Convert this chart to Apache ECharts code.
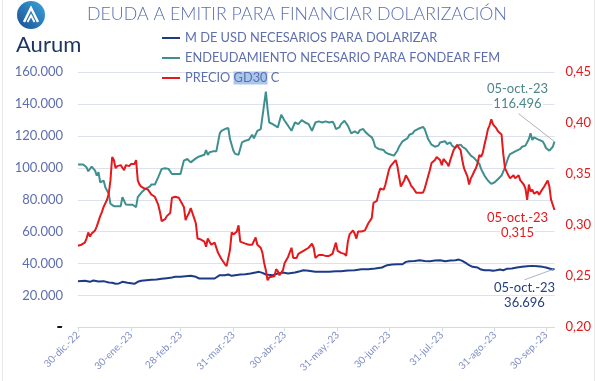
<!DOCTYPE html>
<html>
<head>
<meta charset="utf-8">
<script src="https://cdn.jsdelivr.net/npm/echarts@6/dist/echarts.min.js"></script>
<style>
  html, body { margin: 0; padding: 0; background: #ffffff; }
  #chart { width: 597px; height: 381px; }
</style>
</head>
<body>
<div id="chart"></div>
<script>
// ---- Data (x = days after 30-dic-2022) ----
const startDate = [2022, 11, 30];
const tickDates = ['2022-12-30','2023-01-30','2023-02-28','2023-03-31','2023-04-30','2023-05-31','2023-06-30','2023-07-31','2023-08-31','2023-09-30'];
const monthNames = ['ene','feb','mar','abr','may','jun','jul','ago','sep','oct','nov','dic'];
const seriesNames = ['M DE USD NECESARIOS PARA DOLARIZAR','ENDEUDAMIENTO NECESARIO PARA FONDEAR FEM','PRECIO GD30 C'];
const leftTicks = [0, 160000, 20000];
const rightTicks = [0.20, 0.45, 0.05];

const usdDays = [0,4,7,9,12,15,18,20,22,24,26,27,29,30,33,35,37,40,43,46,49,52,55,57,60,63,66,69,71,72,76,80,83,86,88,90,92,95,98,101,104,106,108,110,111,114,117,120,123,127,130,132,135,139,143,147,151,152,154,158,162,166,170,174,178,181,184,187,188,190,192,194,197,200,203,206,209,212,215,218,221,223,225,227,229,231,232,234,236,238,241,243,245,247,249,251,254,257,260,263,266,269,272,274,276,278,279];
const usdValues = [28960,29170,28540,29380,28750,28960,28130,27920,27290,27500,28540,29170,27920,27920,27290,28540,29170,29580,29790,30000,30420,30830,31250,31670,31670,32080,32290,31670,30630,31250,30630,30630,32710,32710,33130,32290,32710,33130,33330,33750,34380,34790,34170,33130,32710,32710,33750,34380,33750,34380,35210,35830,35420,34790,34790,34790,35210,34380,35210,35630,35830,36460,36460,36880,37500,38960,39380,39580,38330,39580,41040,41460,41670,42080,41670,41460,41880,42080,41460,41880,42080,42500,41670,40420,38960,37920,37920,37500,36250,35830,35830,35420,35830,36250,35830,36670,36880,37500,37920,38330,38540,38330,37920,37500,36880,36250,36696];

const femDays = [0,3,5,6,8,10,11,12,13,15,16,18,19,21,23,25,26,27,28,30,32,34,35,37,39,42,43,45,47,49,51,53,55,56,58,60,62,64,66,67,69,71,72,74,75,76,77,79,81,83,84,86,88,89,91,92,94,96,98,100,101,102,103,105,107,108,110,111,112,114,115,117,119,121,123,125,127,129,130,131,133,135,137,139,141,143,145,147,149,150,151,153,154,156,157,158,160,162,164,165,167,168,170,172,173,174,176,177,179,180,182,183,185,186,187,188,190,191,193,194,196,197,199,200,202,203,204,205,207,209,211,212,213,215,216,218,219,221,222,224,225,227,228,230,232,233,235,236,238,240,242,243,244,246,248,249,250,252,253,254,256,257,259,260,262,263,264,265,266,267,269,270,272,273,274,276,277,278,279];
const femValues = [102100,102100,100400,97900,100800,98300,95200,97300,91000,92100,87900,83700,77500,76000,76000,76000,81700,82700,77100,76900,76900,75400,81700,84400,86500,88300,89600,89600,94200,99400,99800,99400,96200,97300,96200,96200,104600,105600,103500,104600,106000,107200,107700,108300,111200,108100,109800,110400,110400,121700,123300,124400,125000,118100,110800,108800,108300,116000,117100,117700,118700,120800,118500,123300,124400,124000,147900,136900,128500,127500,126500,125400,133300,129600,126500,123300,128500,127500,127100,130000,128500,127500,123300,128500,129200,128500,129200,128500,129000,127500,124400,125400,127500,129600,130000,126500,121700,122900,121700,123700,124400,122900,120800,119200,117100,113300,111900,110800,111200,109800,108700,109200,107700,107700,110800,113300,116700,117100,118700,120800,121700,123300,124400,125400,125800,124400,121200,118100,114600,113300,114000,116000,115000,116700,115000,116000,114000,112500,114000,114600,113300,111900,110800,107700,106200,105000,102500,99400,95200,92100,90000,89000,91000,93100,95200,94200,100400,106700,108700,109200,110400,111200,111900,113300,114000,114600,118100,121700,117500,119200,118100,118500,116700,115000,112500,110800,111900,113300,116496];

const priceDays = [0,2,4,5,6,7,8,10,11,13,14,15,17,18,19,20,21,22,23,25,26,27,28,30,31,33,34,35,36,37,39,41,43,44,45,47,48,49,51,52,54,55,57,59,60,62,63,64,65,66,68,69,70,72,74,75,76,77,78,80,81,82,84,86,87,89,90,91,93,94,95,98,100,102,103,104,105,107,108,109,110,111,112,113,115,116,117,118,120,121,123,125,126,128,129,131,132,133,135,137,138,139,140,141,143,145,147,148,149,150,151,152,153,154,156,157,158,159,161,162,163,164,166,168,170,172,173,175,176,177,179,180,181,182,183,185,186,187,188,189,190,191,192,193,194,195,196,198,200,202,203,205,206,207,209,210,211,212,213,214,216,217,218,219,220,222,223,224,225,226,228,229,230,231,232,233,234,235,236,237,238,239,240,241,242,243,245,246,247,248,249,250,252,253,254,255,256,258,259,260,261,262,263,264,265,266,267,269,270,271,273,274,275,276,277,279];
const priceValues = [0.280,0.281,0.283,0.287,0.293,0.289,0.292,0.295,0.299,0.309,0.313,0.318,0.325,0.331,0.344,0.367,0.364,0.356,0.358,0.359,0.358,0.354,0.359,0.358,0.360,0.360,0.364,0.344,0.340,0.338,0.336,0.335,0.330,0.330,0.328,0.320,0.313,0.304,0.306,0.309,0.312,0.327,0.328,0.327,0.327,0.318,0.305,0.309,0.312,0.317,0.307,0.302,0.287,0.286,0.284,0.279,0.287,0.284,0.281,0.283,0.282,0.273,0.267,0.262,0.260,0.276,0.293,0.291,0.294,0.300,0.284,0.282,0.281,0.281,0.280,0.288,0.281,0.278,0.273,0.263,0.256,0.246,0.249,0.250,0.250,0.257,0.255,0.251,0.256,0.263,0.269,0.278,0.268,0.268,0.272,0.274,0.273,0.276,0.278,0.282,0.278,0.268,0.269,0.271,0.271,0.270,0.270,0.271,0.272,0.273,0.283,0.275,0.276,0.273,0.272,0.270,0.284,0.291,0.295,0.292,0.287,0.294,0.294,0.295,0.302,0.307,0.322,0.324,0.331,0.336,0.335,0.340,0.341,0.354,0.358,0.362,0.364,0.358,0.348,0.338,0.341,0.344,0.349,0.350,0.343,0.339,0.337,0.332,0.332,0.332,0.336,0.348,0.354,0.361,0.364,0.367,0.367,0.364,0.359,0.365,0.361,0.358,0.364,0.369,0.374,0.379,0.376,0.374,0.364,0.356,0.348,0.340,0.346,0.349,0.353,0.356,0.361,0.369,0.367,0.371,0.379,0.386,0.394,0.398,0.404,0.399,0.395,0.392,0.391,0.389,0.370,0.356,0.349,0.346,0.347,0.349,0.346,0.349,0.344,0.344,0.340,0.336,0.325,0.340,0.333,0.335,0.331,0.333,0.330,0.333,0.338,0.341,0.344,0.338,0.325,0.315];

// ---- helpers ----
const DAY_MS = 86400000;
const startTime = Date.UTC(startDate[0], startDate[1], startDate[2]);
function dateStrToDay(s) { const p = s.split('-').map(Number); return Math.round((Date.UTC(p[0], p[1] - 1, p[2]) - startTime) / DAY_MS); }
function fmtDay(day) {
  const d = new Date(startTime + day * DAY_MS);
  const dd = String(d.getUTCDate()).padStart(2, '0');
  const yy = String(d.getUTCFullYear()).slice(2);
  return dd + '-' + monthNames[d.getUTCMonth()] + '.-' + yy;
}
function fmtThousands(v) { return String(Math.round(v)).replace(/\B(?=(\d{3})+(?!\d))/g, '.'); }
function fmtLeft(v) { return v === 0 ? '-' : fmtThousands(v); }
function pairs(days, vals) { return days.map((d, i) => [d, vals[i]]); }

const COL_USD = '#1c3a86';
const COL_FEM = '#3f8f8e';
const COL_PRICE = '#e3191c';
const COL_TEXT = '#5d6fae';
const FONT = 'Lato, "Noto Sans", sans-serif';

const chart = echarts.init(document.getElementById('chart'), null, { renderer: 'canvas' });

const xMin = usdDays[0];
const xMax = usdDays[usdDays.length - 1];
const tickDays = tickDates.map(dateStrToDay);

const staticGraphics = [
  { type: 'circle', id: 'logoC', shape: { cx: 31, cy: 15, r: 14 },
    style: { fill: new echarts.graphic.LinearGradient(0, 1, 1, 0, [{ offset: 0, color: '#1b4f92' }, { offset: 1, color: '#3ba3dc' }]) } },
  { type: 'polyline', id: 'logoA', shape: { points: [[24, 22], [31, 8], [38, 22]] }, style: { stroke: '#ffffff', lineWidth: 2.4, fill: null } },
  { type: 'polyline', id: 'logoA2', shape: { points: [[27.5, 22], [31, 15.5], [34.5, 22]] }, style: { stroke: '#ffffff', lineWidth: 1.8, fill: null } },
  { type: 'text', id: 'logoT', x: 16, y: 45, style: { text: 'Aurum', fill: '#1d3763', font: '22px ' + FONT, verticalAlign: 'middle' } },
  { type: 'line', id: 'bordL', shape: { x1: 2.5, y1: 0, x2: 2.5, y2: 381 }, style: { stroke: '#e8e8ec', lineWidth: 1 } },
  { type: 'line', id: 'bordR', shape: { x1: 594.5, y1: 0, x2: 594.5, y2: 381 }, style: { stroke: '#e8e8ec', lineWidth: 1 } }
];

chart.setOption({
  animation: false,
  backgroundColor: '#ffffff',
  textStyle: { fontFamily: FONT },
  title: {
    text: 'DEUDA A EMITIR PARA FINANCIAR DOLARIZACIÓN',
    left: 87, top: 5, padding: 0,
    textStyle: { color: '#5a6eb0', fontSize: 17.8, fontWeight: 300, fontFamily: FONT }
  },
  legend: {
    orient: 'vertical', left: 157, top: 26,
    itemWidth: 18, itemHeight: 2, itemGap: 6,
    icon: 'rect',
    data: seriesNames,
    formatter: function (name) {
      if (name === seriesNames[2]) return '{a|PRECIO }{hl|GD30}{a| C}';
      return '{a|' + name + '}';
    },
    textStyle: {
      color: COL_TEXT, fontSize: 12.8, lineHeight: 14, fontFamily: FONT,
      rich: {
        a: { color: COL_TEXT, fontSize: 12.8, fontFamily: FONT },
        hl: { color: COL_TEXT, fontSize: 12.8, fontFamily: FONT, backgroundColor: '#a9c7ea' }
      }
    }
  },
  grid: { left: 78, right: 42.5, top: 72.3, bottom: 53.7, containLabel: false },
  xAxis: {
    type: 'value', min: xMin, max: xMax,
    axisLine: { show: true, lineStyle: { color: '#d6d9e0', width: 1 } },
    axisTick: { show: true, customValues: tickDays, length: 4, lineStyle: { color: '#d6d9e0' } },
    axisLabel: {
      customValues: tickDays, rotate: 45, color: '#7f8ec2', fontSize: 10, fontFamily: FONT,
      margin: 6, hideOverlap: false,
      formatter: function (v) { return fmtDay(v); }
    },
    splitLine: { show: false }
  },
  yAxis: [
    {
      type: 'value', min: leftTicks[0], max: leftTicks[1], interval: leftTicks[2],
      axisLine: { show: false }, axisTick: { show: false },
      splitLine: { show: true, lineStyle: { color: '#dde1ec', width: 1 } },
      axisLabel: { color: COL_TEXT, fontSize: 13, margin: 15, fontFamily: FONT, showMinLabel: true, hideOverlap: false,
        formatter: fmtLeft }
    },
    {
      type: 'value', min: rightTicks[0], max: rightTicks[1], interval: rightTicks[2],
      axisLine: { show: false }, axisTick: { show: false }, splitLine: { show: false },
      axisLabel: { color: COL_PRICE, fontSize: 13, margin: 11, fontFamily: FONT, showMinLabel: true, hideOverlap: false,
        formatter: function (v) { return v.toFixed(2).replace('.', ','); } }
    }
  ],
  series: [
    { name: seriesNames[0], type: 'line', yAxisIndex: 0, data: pairs(usdDays, usdValues),
      showSymbol: false, symbol: 'none', lineStyle: { color: COL_USD, width: 2 }, itemStyle: { color: COL_USD }, z: 3 },
    { name: seriesNames[1], type: 'line', yAxisIndex: 0, data: pairs(femDays, femValues),
      showSymbol: false, symbol: 'none', lineStyle: { color: COL_FEM, width: 2 }, itemStyle: { color: COL_FEM }, z: 2 },
    { name: seriesNames[2], type: 'line', yAxisIndex: 1, data: pairs(priceDays, priceValues),
      showSymbol: false, symbol: 'none', lineStyle: { color: COL_PRICE, width: 2 }, itemStyle: { color: COL_PRICE }, z: 4 }
  ],
  graphic: staticGraphics
});

// ---- end-of-series annotations, positioned from the library's own scales ----
function endPoint(days, vals, yIdx) {
  const d = days[days.length - 1], v = vals[vals.length - 1];
  return { d: d, v: v, px: chart.convertToPixel({ xAxisIndex: 0, yAxisIndex: yIdx }, [d, v]) };
}
const eFem = endPoint(femDays, femValues, 0);
const ePrice = endPoint(priceDays, priceValues, 1);
const eUsd = endPoint(usdDays, usdValues, 0);
const zeroPx = chart.convertToPixel({ xAxisIndex: 0, yAxisIndex: 0 }, [xMin, leftTicks[0]]);

function annLines(id, p, dx, dy1, lines, color) {
  return lines.map((t, i) => ({ type: 'text', id: id + i, x: p[0] + dx, y: p[1] + dy1 + i * 15, z: 20,
    style: { text: t, fill: color, font: '13px ' + FONT, align: 'center', verticalAlign: 'middle',
      backgroundColor: '#ffffff', padding: [0, 1] } }));
}
const ann = [].concat(
  [{ type: 'line', id: 'lFem', z: 19, shape: { x1: eFem.px[0] - 36, y1: eFem.px[1] - 28, x2: eFem.px[0], y2: eFem.px[1] }, style: { stroke: '#9aa0a8', lineWidth: 0.8 } }],
  annLines('aFem', eFem.px, -37, -53, [fmtDay(eFem.d), fmtThousands(eFem.v)], '#4a8789'),
  annLines('aPrice', ePrice.px, -37, 7.5, [fmtDay(ePrice.d), ePrice.v.toFixed(3).replace('.', ',')], COL_PRICE),
  [{ type: 'line', id: 'lUsd', z: 19, shape: { x1: eUsd.px[0] - 30, y1: eUsd.px[1] + 11, x2: eUsd.px[0], y2: eUsd.px[1] }, style: { stroke: '#8fa0c8', lineWidth: 0.8 } }],
  annLines('aUsd', eUsd.px, -30, 18.5, [fmtDay(eUsd.d), fmtThousands(eUsd.v)], '#233f7c'),
  [{ type: 'text', id: 'zeroLbl', z: 30, x: zeroPx[0] - 15, y: zeroPx[1],
     style: { text: fmtLeft(leftTicks[0]), fill: '#111111', font: 'bold 18px ' + FONT, align: 'right', verticalAlign: 'middle' } }]
);
chart.setOption({ graphic: staticGraphics.concat(ann) });
</script>
</body>
</html>
